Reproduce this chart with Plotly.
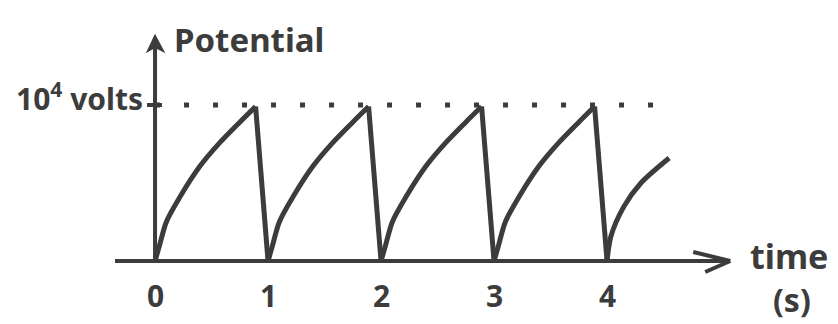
import plotly.graph_objects as go

# One charging cycle: time since reset (s) and potential (units of 10^4 V)
cycle_t = [0.0, 0.04, 0.10, 0.22, 0.40, 0.575, 0.75, 0.89]
cycle_v = [0.0, 0.10, 0.25, 0.41, 0.61, 0.76, 0.89, 0.99]

# Final, unfinished cycle starting at t = 4 s
tail_t = [0.0, 0.035, 0.15, 0.30, 0.55]
tail_v = [0.0, 0.16, 0.35, 0.50, 0.66]

n_cycles = 4
tick_vals = [0, 1, 2, 3, 4]
tick_text = ["0", "1", "2", "3", "4"]
threshold = 1.0          # 10^4 volts
dotted_end = 4.42

INK = "#3c3c3c"
FONT = "Noto Sans, DejaVu Sans, sans-serif"

fig = go.Figure()

# dotted threshold line
fig.add_trace(go.Scatter(
    x=[0, dotted_end], y=[threshold, threshold], mode="lines",
    line=dict(color=INK, width=5, dash="5px,24px"), hoverinfo="skip"))

# slow charging curves (smooth) and fast straight discharges
for k in range(n_cycles):
    fig.add_trace(go.Scatter(
        x=[k + t for t in cycle_t], y=cycle_v, mode="lines",
        line=dict(color=INK, width=5, shape="spline", smoothing=0.8),
        hoverinfo="skip"))
    fig.add_trace(go.Scatter(
        x=[k + cycle_t[-1], k + 1], y=[cycle_v[-1], 0], mode="lines",
        line=dict(color=INK, width=5), hoverinfo="skip"))
fig.add_trace(go.Scatter(
    x=[n_cycles + t for t in tail_t], y=tail_v, mode="lines",
    line=dict(color=INK, width=5, shape="spline", smoothing=0.8),
    hoverinfo="skip"))

x_axis_start, x_axis_end = -0.354, 5.09
y_axis_top = 1.43

shapes = [
    # time axis
    dict(type="line", x0=x_axis_start, x1=x_axis_end, y0=0, y1=0,
         line=dict(color=INK, width=4)),
    # potential axis
    dict(type="line", x0=0, x1=0, y0=0, y1=y_axis_top,
         line=dict(color=INK, width=4)),
    # tick for threshold on potential axis
    dict(type="line", xref="x", yref="y", xsizemode="pixel", xanchor=0,
         x0=-8, x1=7, y0=threshold, y1=threshold,
         line=dict(color=INK, width=4)),
    # open arrowhead on time axis
    dict(type="line", xsizemode="pixel", ysizemode="pixel",
         xanchor=x_axis_end, yanchor=0, x0=0, y0=0, x1=-37, y1=9,
         line=dict(color=INK, width=4)),
    dict(type="line", xsizemode="pixel", ysizemode="pixel",
         xanchor=x_axis_end, yanchor=0, x0=0, y0=0, x1=-25, y1=-11,
         line=dict(color=INK, width=4)),
    # arrowhead on potential axis
    dict(type="path", xsizemode="pixel", ysizemode="pixel",
         xanchor=0, yanchor=y_axis_top,
         path="M 0 2 L -7 -13 L 0 -9 L 8 -13 Z",
         fillcolor=INK, line=dict(color=INK, width=2)),
]

annotations = []
for v, s in zip(tick_vals, tick_text):
    annotations.append(dict(x=v, y=0, text=s, showarrow=False, yanchor="top",
                            yshift=-12,
                            font=dict(size=30, color=INK, family=FONT, weight="bold")))

annotations += [
    dict(x=0.15, y=1.417, text="Potential", showarrow=False, xanchor="left",
         yanchor="middle",
         font=dict(size=33, color=INK, family=FONT, weight="bold")),
    dict(x=-0.09, y=threshold, text="10<sup>4</sup> volts", showarrow=False,
         xanchor="right", yanchor="middle", yshift=8,
         font=dict(size=30, color=INK, family=FONT, weight="bold")),
    dict(x=5.25, y=0.03, text="time", showarrow=False, xanchor="left",
         yanchor="middle",
         font=dict(size=34, color=INK, family=FONT, weight="bold")),
    dict(x=5.64, y=-0.25, text="(s)", showarrow=False, xanchor="center",
         yanchor="middle",
         font=dict(size=32, color=INK, family=FONT, weight="bold")),
]

fig.update_layout(
    width=838, height=324,
    margin=dict(l=0, r=0, t=0, b=0),
    paper_bgcolor="white", plot_bgcolor="white",
    showlegend=False,
    xaxis=dict(range=[-1.372, 6.044], visible=False, fixedrange=True),
    yaxis=dict(range=[-0.404, 1.673], visible=False, fixedrange=True),
    shapes=shapes, annotations=annotations,
)

fig.write_html("out.html")
